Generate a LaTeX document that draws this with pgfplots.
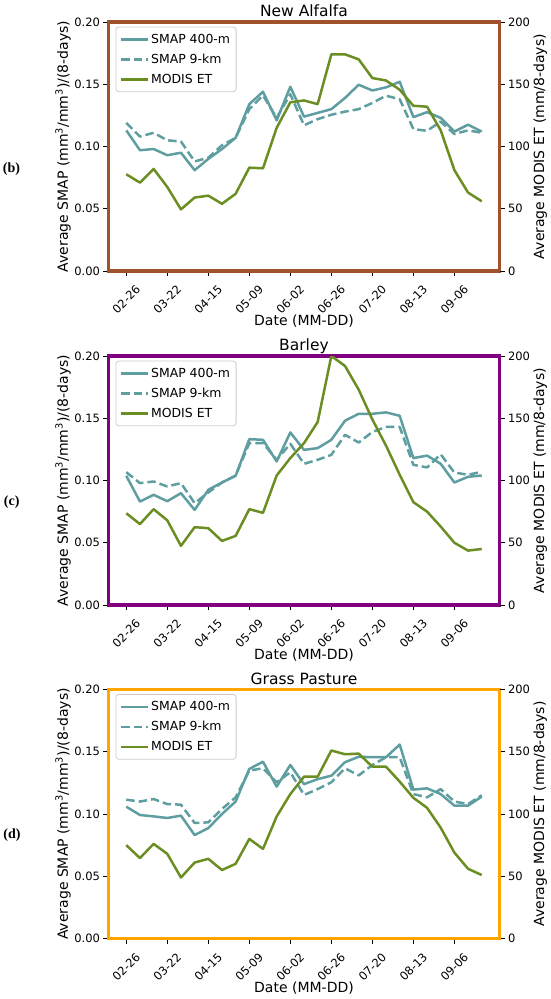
\documentclass[border=0pt]{standalone}
\usepackage{pgfplots}
\pgfplotsset{compat=1.18}
\usepackage{pgfplotstable}
\usepackage{fontspec}
\setmainfont{DejaVu Sans}
\newfontfamily\serifb{Liberation Serif}
\definecolor{smap}{HTML}{5F9EA0}
\definecolor{modis}{HTML}{6B8E23}
\definecolor{sienna}{HTML}{A0522D}
\definecolor{purp}{HTML}{800080}
\definecolor{orng}{HTML}{FFA500}

\pgfplotstableread{
i s4 s9 et
0 0.113 0.119 77.7
1 0.097 0.108 71
2 0.098 0.111 82
3 0.093 0.105 67.5
4 0.095 0.104 49.5
5 0.081 0.088 59
6 0.090 0.091 60.5
7 0.098 0.101 54
8 0.107 0.107 62
9 0.134 0.130 83
10 0.144 0.141 82.5
11 0.121 0.123 115
12 0.148 0.142 135.5
13 0.124 0.117 137
14 0.127 0.122 134
15 0.130 0.1255 174
16 0.139 0.128 174
17 0.1496 0.130 170
18 0.145 0.135 155
19 0.1475 0.1408 153
20 0.152 0.138 145.6
21 0.1236 0.114 132.7
22 0.1276 0.1126 132
23 0.123 0.120 113
24 0.112 0.110 81
25 0.1175 0.113 63
26 0.112 0.111 56
}\alfalfa

\pgfplotstableread{
i s4 s9 et
0 0.1038 0.1067 73.7
1 0.0831 0.0979 65
2 0.0885 0.0992 77
3 0.0834 0.0952 68
4 0.0898 0.0979 47.5
5 0.0764 0.0818 62.5
6 0.0925 0.0904 61.7
7 0.0984 0.0984 51.5
8 0.1038 0.104 55.5
9 0.1332 0.130 77
10 0.1327 0.130 74
11 0.1153 0.1166 104
12 0.1386 0.1295 118
13 0.1246 0.1134 130
14 0.126 0.1166 147
15 0.1327 0.1206 200
16 0.148 0.1367 192
17 0.1536 0.1305 173
18 0.1536 0.139 149
19 0.1547 0.143 128
20 0.152 0.143 104.6
21 0.118 0.1126 82.6
22 0.120 0.1105 75
23 0.1134 0.121 63
24 0.0984 0.1064 50
25 0.103 0.1046 43.7
26 0.104 0.107 45
}\barley

\pgfplotstableread{
i s4 s9 et
0 0.1059 0.1115 75
1 0.0992 0.110 64.6
2 0.0981 0.112 76
3 0.0968 0.108 68
4 0.0987 0.1075 49
5 0.0831 0.0928 61
6 0.0887 0.0933 64
7 0.100 0.104 55
8 0.110 0.1134 60
9 0.1362 0.1349 80
10 0.142 0.1367 72
11 0.122 0.1255 98
12 0.1394 0.1335 116
13 0.124 0.1153 130
14 0.128 0.120 130
15 0.1308 0.1255 151
16 0.1416 0.1367 148
17 0.146 0.131 148.5
18 0.1456 0.1394 138
19 0.1456 0.1456 138
20 0.1558 0.1456 126
21 0.1196 0.116 113
22 0.1206 0.1134 105
23 0.116 0.120 89
24 0.1067 0.110 69
25 0.1067 0.108 56
26 0.114 0.115 51
}\grass

\pgfplotsset{
  panel/.style={
    scale only axis, width=391pt, height=249pt,
    xmin=-1.3, xmax=27.3,
    tick align=outside,
    major tick length=5pt,
    major tick style={black, line width=0.9pt},
    /pgf/number format/assume math mode=true,
    ticklabel style={font=\fontsize{11.5}{13}\selectfont},
    label style={font=\fontsize{14}{16}\selectfont},
    axis line style={line width=3.5pt},
  },
  leftax/.style={
    panel,
    ymin=0, ymax=0.2,
    ytick={0,0.05,0.1,0.15,0.2},
    yticklabel style={/pgf/number format/.cd, fixed, fixed zerofill, precision=2},
    xtick={0,3,6,9,12,15,18,21,24},
    xticklabels={02-26,03-22,04-15,05-09,06-02,06-26,07-20,08-13,09-06},
    xtick pos=left, ytick pos=left,
    xticklabel style={rotate=45, anchor=center, xshift=-16.6pt, yshift=-16.6pt},
    xlabel={Date (MM-DD)},
    xlabel style={at={([yshift=-49.7pt]axis description cs:0.5,0)}, anchor=center},
    ylabel={Average SMAP (mm\textsuperscript{3}/mm\textsuperscript{3})/(8-days)},
    ylabel style={at={([xshift=-45.5pt]axis description cs:0,0.5)}, anchor=center},
    title style={font=\fontsize{15.5}{18}\selectfont, at={(axis description cs:0.5,1)}, anchor=base, yshift=-0.5pt},
    legend cell align=left,
    legend image code/.code={\draw[##1] (0pt,0pt) -- (26.7pt,0pt);},
    legend style={at={(0,1)}, anchor=north west, xshift=7pt, yshift=-4.5pt,
      draw=black!20, line width=0.8pt, rounded corners=3pt, fill=white,
      font=\fontsize{12.45}{14}\selectfont, row sep=5.2pt, inner xsep=4pt, inner ysep=5pt},
  },
  rightax/.style={
    panel,
    ymin=0, ymax=200,
    ytick={0,50,100,150,200},
    axis x line=none, axis y line*=right,
    ylabel={Average MODIS ET (mm/8-days)},
    ylabel style={at={([xshift=40.8pt]axis description cs:1,0.5)}, anchor=center},
  },
  s4line/.style={smap, line width=2.5pt, line join=round},
  s9line/.style={smap, line width=2.5pt, line join=round, dash pattern=on 8.5pt off 4pt},
  etline/.style={modis, line width=2.5pt, line join=round},
}

\begin{document}
\begin{tikzpicture}
\useasboundingbox (0pt,0pt) rectangle (550pt,-999pt);

% ---------- (b) New Alfalfa
\begin{axis}[leftax, at={(108.5pt,-271pt)}, anchor=south west,
  axis line style={draw=sienna}, title={New Alfalfa}]
\addplot[s4line] table[x=i,y=s4]{\alfalfa};
\addlegendentry{SMAP 400-m}
\addplot[s9line] table[x=i,y=s9]{\alfalfa};
\addlegendentry{SMAP 9-km}
\addlegendimage{etline}
\addlegendentry{MODIS ET}
\end{axis}
\begin{axis}[rightax, at={(108.5pt,-271pt)}, anchor=south west,
  axis line style={draw=sienna}]
\addplot[etline] table[x=i,y=et]{\alfalfa};
\end{axis}

% ---------- (c) Barley
\begin{axis}[leftax, at={(108.5pt,-605pt)}, anchor=south west,
  axis line style={draw=purp}, title={Barley}]
\addplot[s4line] table[x=i,y=s4]{\barley};
\addlegendentry{SMAP 400-m}
\addplot[s9line] table[x=i,y=s9]{\barley};
\addlegendentry{SMAP 9-km}
\addlegendimage{etline}
\addlegendentry{MODIS ET}
\end{axis}
\begin{axis}[rightax, at={(108.5pt,-605pt)}, anchor=south west,
  axis line style={draw=purp}]
\addplot[etline] table[x=i,y=et]{\barley};
\end{axis}

% ---------- (d) Grass Pasture
\begin{axis}[leftax, at={(108.5pt,-938.5pt)}, anchor=south west,
  axis line style={draw=orng}, title={Grass Pasture}]
\addplot[s4line] table[x=i,y=s4]{\grass};
\addlegendentry{SMAP 400-m}
\addplot[s9line] table[x=i,y=s9]{\grass};
\addlegendentry{SMAP 9-km}
\addlegendimage{etline}
\addlegendentry{MODIS ET}
\end{axis}
\begin{axis}[rightax, at={(108.5pt,-938.5pt)}, anchor=south west,
  axis line style={draw=orng}]
\addplot[etline] table[x=i,y=et]{\grass};
\end{axis}

\node[font=\serifb\bfseries\fontsize{14}{16}\selectfont] at (11.5pt,-169pt) {(b)};
\node[font=\serifb\bfseries\fontsize{14}{16}\selectfont] at (11.7pt,-502.5pt) {(c)};
\node[font=\serifb\bfseries\fontsize{14}{16}\selectfont] at (12pt,-835pt) {(d)};
\end{tikzpicture}
\end{document}
